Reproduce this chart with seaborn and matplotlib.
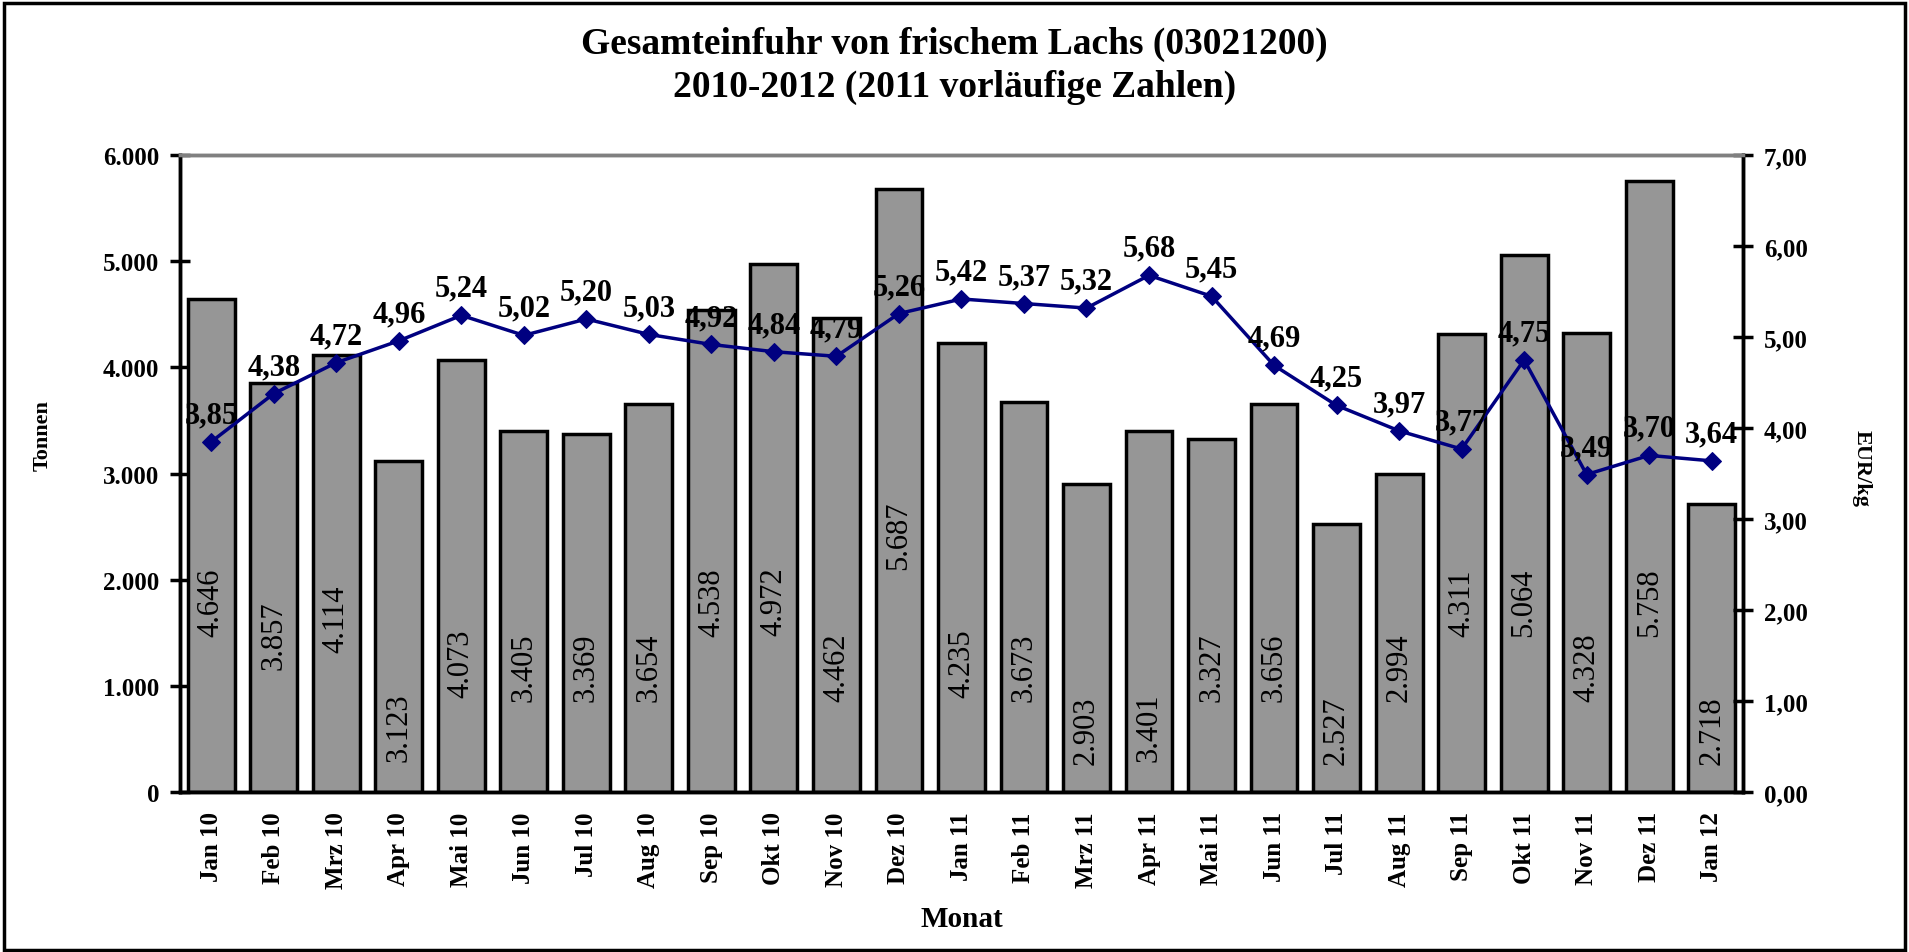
import numpy as np
import pandas as pd
import matplotlib
matplotlib.use("Agg")
import matplotlib.pyplot as plt
import seaborn as sns
from matplotlib.patches import Rectangle

# Daten
monate = ["Jan 10", "Feb 10", "Mrz 10", "Apr 10", "Mai 10", "Jun 10", "Jul 10",
          "Aug 10", "Sep 10", "Okt 10", "Nov 10", "Dez 10", "Jan 11", "Feb 11",
          "Mrz 11", "Apr 11", "Mai 11", "Jun 11", "Jul 11", "Aug 11", "Sep 11",
          "Okt 11", "Nov 11", "Dez 11", "Jan 12"]
tonnen = [4646, 3857, 4114, 3123, 4073, 3405, 3369, 3654, 4538, 4972, 4462, 5687,
          4235, 3673, 2903, 3401, 3327, 3656, 2527, 2994, 4311, 5064, 4328, 5758, 2718]
preise = [3.85, 4.38, 4.72, 4.96, 5.24, 5.02, 5.20, 5.03, 4.92, 4.84, 4.79, 5.26,
          5.42, 5.37, 5.32, 5.68, 5.45, 4.69, 4.25, 3.97, 3.77, 4.75, 3.49, 3.70, 3.64]

# Position der Balkenbeschriftungen (Tonnen-Achse)
label_y = [1790, 1480, 1640, 610, 1216, 1180, 1180, 1180, 1790, 1800, 1180, 2420,
           1216, 1180, 585, 610, 1180, 1180, 585, 1180, 1790, 1790, 1180, 1790, 585]

df = pd.DataFrame({"Monat": monate, "Tonnen": tonnen, "Preis": preise})

sns.set_style("white")
plt.rcParams["font.family"] = ["Liberation Serif", "DejaVu Serif"]
plt.rcParams["text.color"] = "black"
plt.rcParams["axes.labelcolor"] = "black"
plt.rcParams["xtick.color"] = "black"
plt.rcParams["ytick.color"] = "black"

fig = plt.figure(figsize=(19.09, 9.53), dpi=100)
ax = fig.add_axes([0.0943, 0.168, 0.8187, 0.668])

sns.barplot(data=df, x="Monat", y="Tonnen", color="#969696", saturation=1,
            edgecolor="black", linewidth=2.5, width=0.75, ax=ax)
ax.set_xlim(-0.5, len(monate) - 0.5)
ax.set_ylim(0, 6000)
ax.set_yticks(range(0, 6001, 1000))
ax.set_yticklabels([f"{v:,}".replace(",", ".") for v in range(0, 6001, 1000)],
                   fontsize=18, fontweight="bold")
ax.set_xticks(range(len(monate)))
ax.set_xticklabels(monate, rotation=90, fontsize=18, fontweight="bold")
ax.tick_params(axis="x", length=0, pad=14)
ax.tick_params(axis="y", direction="inout", length=14, width=2.5, pad=8)
ax.set_ylabel("Tonnen", fontsize=16, fontweight="bold", va="center")
ax.yaxis.set_label_coords(-0.088, 0.562)
ax.set_xlabel("Monat", fontsize=21, fontweight="bold", labelpad=12)

for i, (t, ly) in enumerate(zip(tonnen, label_y)):
    ax.text(i, ly, f"{t:,}".replace(",", "."), rotation=90, ha="center",
            va="center", fontsize=22, color="black")

ax2 = ax.twinx()
sns.lineplot(x=np.arange(len(preise)), y=preise, ax=ax2, color="#000080",
             linewidth=2.5, marker="D", markersize=9, markeredgecolor="#000080",
             sort=False)
ax2.set_ylim(0, 7)
ax2.set_xlim(-0.5, len(monate) - 0.5)
ax2.set_yticks(range(0, 8))
ax2.set_yticklabels([f"{v:.2f}".replace(".", ",") for v in range(0, 8)],
                    fontsize=18, fontweight="bold")
ax2.tick_params(axis="y", direction="inout", length=14, width=2.5, pad=8)
ax2.set_ylabel("EUR/kg", fontsize=16, fontweight="bold", rotation=270, va="center")
ax2.yaxis.set_label_coords(1.076, 0.509)

for i, p in enumerate(preise):
    ax2.annotate(f"{p:.2f}".replace(".", ","), (i, p), xytext=(0, 9),
                 textcoords="offset points", ha="center", va="bottom",
                 fontsize=22, fontweight="bold")

for a in (ax, ax2):
    for s in ("left", "right", "bottom"):
        a.spines[s].set_linewidth(2.5)
        a.spines[s].set_color("black")
    a.spines["top"].set_color("#808080")
    a.spines["top"].set_linewidth(2.5)

fig.suptitle("Gesamteinfuhr von frischem Lachs (03021200)\n2010-2012 (2011 vorläufige Zahlen)",
             fontsize=27, fontweight="bold", y=0.972, linespacing=1.3)

fig.patches.append(Rectangle((0.002, 0.002), 0.996, 0.994, transform=fig.transFigure,
                             fill=False, edgecolor="black", linewidth=2.5))

fig.savefig("out.png", dpi=100)
